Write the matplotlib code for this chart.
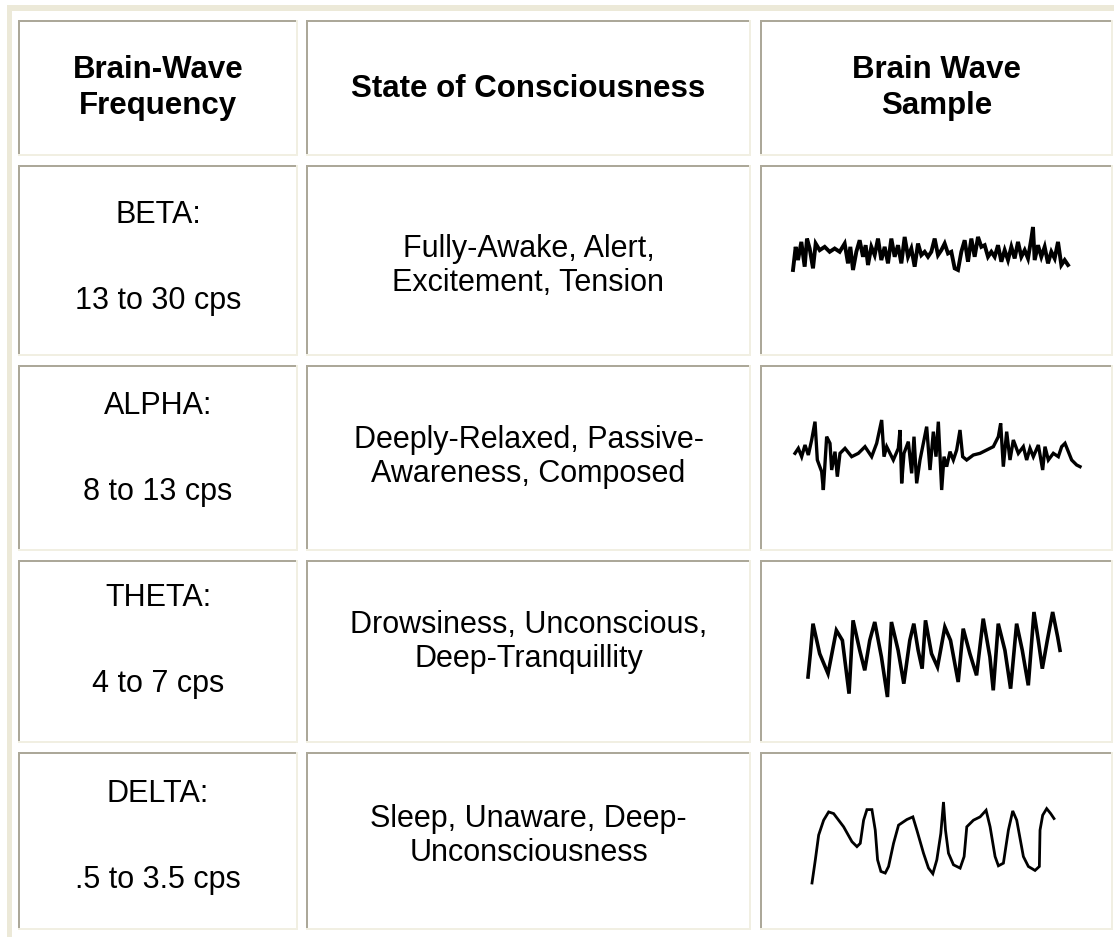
import matplotlib.pyplot as plt
from matplotlib.patches import Rectangle

# ---- table content ----
headers = ["Brain-Wave\nFrequency", "State of Consciousness", "Brain Wave\nSample"]
band_names = ["BETA:", "ALPHA:", "THETA:", "DELTA:"]
band_ranges = ["13 to 30 cps", "8 to 13 cps", "4 to 7 cps", ".5 to 3.5 cps"]
states = ["Fully-Awake, Alert,\nExcitement, Tension",
          "Deeply-Relaxed, Passive-\nAwareness, Composed",
          "Drowsiness, Unconscious,\nDeep-Tranquillity",
          "Sleep, Unaware, Deep-\nUnconsciousness"]

# ---- brain wave samples (time, amplitude) ----
beta_t = [100, 108, 115, 125, 135, 142, 150, 160, 168, 180, 195, 210, 225, 240, 255, 265,
          272, 280, 290, 300, 310, 318, 325, 335, 345, 355, 365, 375, 385, 395, 405, 415,
          425, 435, 445, 455, 465, 475, 485, 495, 505, 515, 525, 535, 545, 555, 565, 575,
          585, 595, 605, 615, 625, 635, 645, 655, 665, 675, 685, 695, 705, 715, 725, 735,
          745, 755, 765, 775, 785, 795, 805, 815, 820, 825, 835, 845, 855, 865, 875, 885,
          895, 905, 915, 925]
beta_v = [-55, 15, -25, 30, -45, 40, 10, -50, 25, 5, 15, 0, 10, 0, 25, -35,
          15, -55, 0, 35, -15, 20, -40, 15, -10, 40, -25, 15, -35, 40, -15, 20,
          -35, 45, -15, 10, -45, 25, -10, 0, -15, 0, 40, -10, 5, 25, -5, 0,
          -50, -55, 0, 35, -30, 40, -15, 45, 15, 20, -15, 0, -15, 20, -30, 5,
          -25, 15, -20, 30, -15, 5, -20, 40, 75, -25, 20, -15, 15, -35, 0, -20,
          30, -40, -25, -40]

alpha_t = [105, 115, 125, 135, 145, 155, 165, 172, 185, 190, 200, 210, 215, 225, 232, 240,
           255, 275, 295, 315, 335, 350, 365, 372, 380, 400, 415, 420, 425, 432, 445, 455,
           462, 470, 480, 490, 500, 510, 520, 528, 535, 545, 552, 560, 570, 580, 590, 600,
           608, 620, 640, 660, 680, 700, 715, 722, 730, 740, 750, 760, 775, 790, 800, 810,
           820, 835, 848, 855, 865, 880, 895, 905, 915, 925, 935, 950, 960]
alpha_v = [5, 20, -5, 30, 0, 45, 100, -15, -50, -105, 55, 35, -45, 10, -65, 5,
           20, -5, 5, 25, -5, 35, 105, -5, 25, -15, 20, 75, -85, 5, 40, -55,
           55, -85, -15, 35, 85, -45, 70, -5, 100, -105, -5, -35, 10, -15, 15, 75,
           -5, -15, 0, 5, 15, 25, 55, 95, -35, 70, -15, 45, 5, 25, -15, 20,
           -5, 30, -45, 25, -15, 5, -5, 25, 35, 10, -15, -30, -35]

theta_t = [145, 152, 160, 180, 205, 230, 248, 268, 280, 300, 315, 330, 345, 365, 383, 395,
           415, 432, 450, 462, 475, 487, 497, 515, 533, 555, 572, 595, 610, 630, 650, 670,
           690, 700, 715, 735, 752, 770, 787, 805, 822, 835, 847, 862, 878, 893, 900]
theta_v = [-75, -5, 85, -5, -65, 65, 35, -125, 95, 5, -55, 35, 90, -15, -135, 90,
           5, -95, 35, 85, 5, -50, 95, -5, -45, 75, 35, -90, 70, -5, -70, 100,
           -15, -115, 85, 5, -110, 85, 5, -100, 120, 35, -50, 35, 120, 45, 5]

delta_t = [155, 165, 175, 190, 205, 220, 250, 275, 290, 300, 310, 320, 335, 345, 352, 362,
           375, 385, 400, 415, 440, 458, 470, 490, 505, 518, 530, 542, 550, 556, 565, 580,
           600, 612, 620, 640, 660, 678, 690, 705, 715, 730, 745, 758, 770, 790, 805, 825,
           838, 840, 848, 860, 872, 882]
delta_v = [-125, -55, 20, 65, 90, 85, 45, 0, -15, -5, 65, 97, 97, 35, -55, -90,
           -95, -75, -5, 50, 67, 75, 35, -35, -80, -97, -55, 25, 120, 35, -35, -70,
           -80, -45, 45, 65, 75, 95, 45, -45, -73, -65, 35, 93, 65, -45, -75, -87,
           -75, 35, 80, 100, 85, 70]

waves = [(beta_t, beta_v), (alpha_t, alpha_v), (theta_t, theta_v), (delta_t, delta_v)]

# ---- layout (pixels) ----
W, H = 1114, 939
col_x = [(18, 298), (306, 751), (760, 1113)]
row_y = [(20, 156), (165, 356), (365, 551), (560, 743), (752, 930)]
head_y = [88, 89, 88]
band_y = [258, 449, 641, 837]
state_y = [266, 457, 642, 836]
wave_box = [(793, 227, 1068, 270), (795, 420, 1080, 490),
            (808, 612, 1060, 697), (812, 802, 1054, 883)]
wave_lw = [2.8, 2.4, 2.6, 2.0]

dark = "#aca899"
light = "#f1efe2"
frame = "#ece9d8"
font = "Liberation Sans"

fig = plt.figure(figsize=(W / 100, H / 100), dpi=100)
ax = fig.add_axes([0, 0, 1, 1])
ax.set_xlim(0, W)
ax.set_ylim(H, 0)
ax.axis("off")

# outer beige frame
ax.add_patch(Rectangle((7, 5), W - 7, 6, color=frame, lw=0))
ax.add_patch(Rectangle((7, 5), 5, H - 7, color=frame, lw=0))

# cells with inset borders
for (y0, y1) in row_y:
    for (x0, x1) in col_x:
        ax.add_patch(Rectangle((x0, y0), x1 - x0, y1 - y0, facecolor="white", lw=0))
        ax.add_patch(Rectangle((x0, y0), x1 - x0, 2, color=dark, lw=0))
        ax.add_patch(Rectangle((x0, y0), 2, y1 - y0, color=dark, lw=0))
        ax.add_patch(Rectangle((x0, y1 - 2), x1 - x0, 2, color=light, lw=0))
        ax.add_patch(Rectangle((x1 - 2, y0), 2, y1 - y0, color=light, lw=0))

def cx(i):
    return (col_x[i][0] + col_x[i][1]) / 2

for i, h in enumerate(headers):
    ax.text(cx(i), head_y[i], h, ha="center", va="center", fontsize=22.5,
            fontweight="bold", family=font, linespacing=1.22)

for j in range(4):
    ax.text(cx(0), band_y[j], band_names[j] + "\n\n" + band_ranges[j], ha="center",
            va="center", fontsize=22, family=font, linespacing=1.55)
    ax.text(cx(1), state_y[j], states[j], ha="center", va="center", fontsize=22,
            family=font, linespacing=1.19)

    t, v = waves[j]
    x0, y0, x1, y1 = wave_box[j]
    wax = fig.add_axes([x0 / W, 1 - y1 / H, (x1 - x0) / W, (y1 - y0) / H])
    wax.plot(t, v, color="black", lw=wave_lw[j], clip_on=False, solid_joinstyle="miter")
    wax.set_xlim(min(t), max(t))
    wax.set_ylim(min(v), max(v))
    wax.axis("off")

fig.savefig("out.png", dpi=100, facecolor="white")
